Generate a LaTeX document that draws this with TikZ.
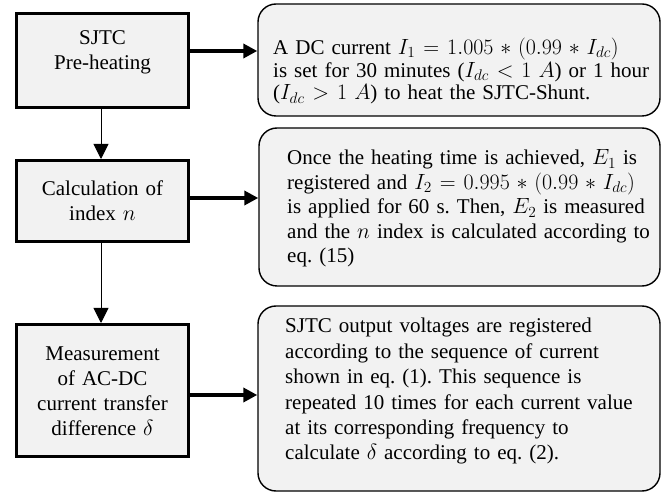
\RequirePackage{fix-cm}
\documentclass[tikz,border=0pt]{standalone}
\usepackage{fontspec}
\setmainfont{Liberation Serif}
\usetikzlibrary{arrows.meta}
\definecolor{boxfill}{HTML}{F2F2F2}
% slightly larger, wider-spaced math
\DeclareMathSizes{21}{22}{15.4}{11}
\thickmuskip=6.5mu
\medmuskip=5.5mu
\frenchspacing
% one justified line of the given width
\newcommand\spreadline[2]{\leavevmode\hbox to #1{#2}\par}
\begin{document}
\begin{tikzpicture}[x=1pt,y=-1pt,
  stagebox/.style={draw=black, line width=3pt, fill=boxfill, minimum width=172pt, inner sep=0pt},
  notebox/.style={draw=black, line width=1.4pt, fill=boxfill, rounded corners=18pt, inner sep=0pt},
  stagetext/.style={text width=170pt, align=center, inner sep=0pt, anchor=base,
    font=\fontsize{21}{25}\selectfont},
  notetext/.style={align=left, inner sep=0pt, anchor=base west},
  flowdown/.style={-{Triangle[length=15pt,width=15pt]}, line width=1pt},
  flowright/.style={-{Triangle[length=14pt,width=14pt]}, line width=4pt}]
\useasboundingbox (0,0) rectangle (665,494);

% process stages (left column)
\node[stagebox, minimum height=94pt]  (s1) at (102.5,60.5) {};
\node[stagebox, minimum height=81pt]  (s2) at (102.5,201) {};
\node[stagebox, minimum height=132pt] (s3) at (102.5,390.5) {};

\node[stagetext] (t1) at (102.5,45)  {SJTC\\Pre-heating};
\node[stagetext] (t2) at (102.5,196) {Calculation of\\index $n$};
\node[stagetext] (t3) at (102.5,361) {Measurement\\of AC-DC\\current transfer\\difference $\delta$};

% descriptions (right column)
\node[notebox, minimum width=402pt, minimum height=112pt] (r1) at (459,60) {};
\node[notebox, minimum width=401pt, minimum height=158pt] (r2) at (459.5,207) {};
\node[notebox, minimum width=402pt, minimum height=185pt] (r3) at (459,398.5) {};

\node[notetext, text width=374pt, font=\fontsize{21}{22.7}\selectfont] (d1) at (273,54.5)
  {\spreadline{360pt}{A DC current $I_1 = 1.005 * (0.99 * I_{dc})$}
   \spreadline{374pt}{is set for 30 minutes ($I_{dc} < 1\ A$) or 1 hour}
   ($I_{dc} > 1\ A$) to heat the SJTC-Shunt.};
\node[notetext, text width=346pt, font=\fontsize{21}{24.5}\selectfont] (d2) at (287,165)
  {\spreadline{346pt}{Once the heating time is achieved, $E_1$ is}
   \spreadline{346pt}{registered and $I_2 = 0.995 * (0.99 * I_{dc})$}
   \spreadline{346pt}{is applied for 60 s. Then, $E_2$ is measured}
   \spreadline{346pt}{and the $n$ index is calculated according to}
   eq. (15)};
\node[notetext, text width=365pt, font=\fontsize{21}{25.4}\selectfont] (d3) at (285,333)
  {\spreadline{365pt}{SJTC output voltages are registered}
   \spreadline{365pt}{according to the sequence of current}
   \spreadline{365pt}{shown in eq. (1). This sequence is}
   \spreadline{365pt}{repeated 10 times for each current value}
   \spreadline{365pt}{at its corresponding frequency to}
   calculate $\delta$ according to eq. (2).};

% flow between stages
\draw[flowdown] (s1.south -| 101,0) -- (s2.north -| 101,0);
\draw[flowdown] (s2.south -| 101,0) -- (s3.north -| 101,0);

% links to descriptions
\draw[flowright] (s1.east |- 0,51)  -- (r1.west |- 0,51);
\draw[flowright] (s2.east |- 0,198) -- (r2.west |- 0,198);
\draw[flowright] (s3.east |- 0,395) -- (r3.west |- 0,395);
\end{tikzpicture}
\end{document}
